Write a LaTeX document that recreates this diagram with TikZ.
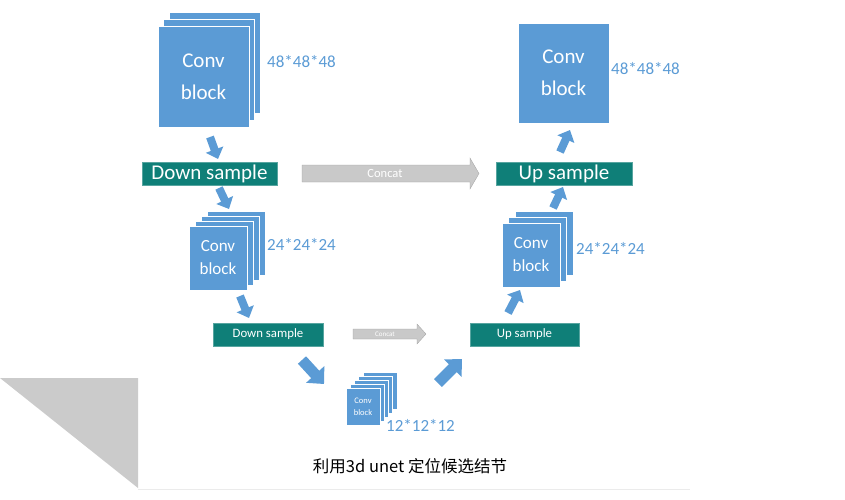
\documentclass[tikz,border=0pt]{standalone}
\usepackage{fontspec}
\setmainfont{Carlito}
\newfontfamily\cjk{Noto Sans CJK SC}
\usetikzlibrary{arrows.meta}
\definecolor{cblue}{HTML}{5B9BD5}
\definecolor{cteal}{HTML}{0F7F78}
\definecolor{cgray}{HTML}{C9C9C9}
\definecolor{tri}{HTML}{CBCBCB}
\begin{document}
\begin{tikzpicture}[x=1pt,y=-1pt,
  layer/.style={rectangle, fill=cblue, draw=white, line width=0.7pt, inner sep=0pt, text=white, align=center},
  bigconv/.style={layer, minimum width=91pt, minimum height=101pt, font=\fontsize{21}{32}\selectfont},
  midconv/.style={layer, minimum width=58pt, minimum height=64pt, font=\fontsize{17}{23}\selectfont},
  smallconv/.style={layer, minimum width=34pt, minimum height=37pt, font=\fontsize{8.5}{12}\selectfont},
  samplebox/.style={rectangle, fill=cteal, draw=cteal!70!white, line width=0.5pt, text=white, inner sep=0pt, minimum height=23pt},
  bigsample/.style={samplebox, font=\fontsize{21}{24}\selectfont},
  smallsample/.style={samplebox, font=\fontsize{12.8}{15}\selectfont},
  dimlabel/.style={text=cblue, anchor=west, inner sep=0pt, font=\fontsize{17}{20}\selectfont},
  barrow/.style={draw=cblue, line width=8pt, -{Triangle[length=10pt,width=18pt]}},
  bigbarrow/.style={draw=cblue, line width=11pt, -{Triangle[length=13pt,width=24pt]}},
  concatarrow/.style={fill=cgray, draw=cgray!80!black, line width=0.3pt},
  concattext/.style={text=white, inner sep=0pt}
]
\useasboundingbox (0,0) rectangle (845,499);

% background decoration
\fill[tri] (0,378) -- (138,378) -- (138,488) -- cycle;
\draw[black!8, line width=1.2pt] (138,489.5) -- (690,489.5);

% --- level 1 left: conv block 48
\foreach \i in {2,1}
  \node[bigconv] (c1l\i) at ({203.5+5.5*\i},{76.5-7*\i}) {};
\node[bigconv] (conv1) at (203.5,76.5) {Conv\\block};
\node[dimlabel] (d1) at (267,62) {48*48*48};

\node[bigsample, minimum width=135pt] (down1) at (209.5,173.5) {Down sample};

% --- level 2 left: conv block 24
\foreach \i in {3,2,1}
  \node[midconv] (c2l\i) at ({218+6*\i},{258-5*\i}) {};
\node[midconv] (conv2) at (218,258) {Conv\\block};
\node[dimlabel] (d2) at (267,244) {24*24*24};

\node[smallsample, minimum width=110pt] (down2) at (268,334.5) {Down sample};

% --- bottom: conv block 12
\foreach \i in {4,3,2,1}
  \node[smallconv] (c3l\i) at ({363+4.25*\i},{406.5-4*\i}) {};
\node[smallconv] (conv3) at (363,406.5) {Conv\\block};
\node[dimlabel] (d3) at (386,425) {12*12*12};

% --- right side
\node[smallsample, minimum width=109pt] (up2) at (524.5,334.5) {Up sample};

\foreach \i in {2,1}
  \node[midconv] (c4l\i) at ({531+6.5*\i},{255-6*\i}) {};
\node[midconv] (conv4) at (531,255) {Conv\\block};
\node[dimlabel] (d4) at (576,248) {24*24*24};

\node[bigsample, minimum width=136pt] (up1) at (564,173.5) {Up sample};

\node[bigconv, minimum height=100pt] (conv5) at (563.5,73) {Conv\\block};
\node[dimlabel] (d5) at (611,69) {48*48*48};

% --- concat arrows
\fill[concatarrow] (302,165) -- (470,165) -- (470,158) -- (479,173.5) -- (470,189) -- (470,182) -- (302,182) -- cycle;
\node[concattext, font=\fontsize{12.5}{14}\selectfont] (cat1) at (385,173.5) {Concat};
\fill[concatarrow] (353,329) -- (417,329) -- (417,324) -- (426,334) -- (417,344) -- (417,339) -- (353,339) -- cycle;
\node[concattext, font=\fontsize{7}{8}\selectfont] (cat2) at (385,334) {Concat};

% --- blue block arrows
\coordinate (a1s) at (210,137); \coordinate (a1e) at (218,159);
\coordinate (a2s) at (219,188); \coordinate (a2e) at (229,209);
\coordinate (a3s) at (240,296); \coordinate (a3e) at (249,318);
\coordinate (a4s) at (302,360); \coordinate (a4e) at (324,384);
\coordinate (a5s) at (438,383); \coordinate (a5e) at (462,359);
\coordinate (a6s) at (508,313); \coordinate (a6e) at (520,290);
\coordinate (a7s) at (553,208); \coordinate (a7e) at (563,187);
\coordinate (a8s) at (560,152); \coordinate (a8e) at (570,130);
\draw[barrow] (a1s) -- (a1e);
\draw[barrow] (a2s) -- (a2e);
\draw[barrow] (a3s) -- (a3e);
\draw[bigbarrow] (a4s) -- (a4e);
\draw[bigbarrow] (a5s) -- (a5e);
\draw[barrow] (a6s) -- (a6e);
\draw[barrow] (a7s) -- (a7e);
\draw[barrow] (a8s) -- (a8e);

% caption
\node[font=\cjk\fontsize{16.5}{20}\selectfont] (cap) at (410,466) {利用3d unet 定位候选结节};
\end{tikzpicture}
\end{document}
